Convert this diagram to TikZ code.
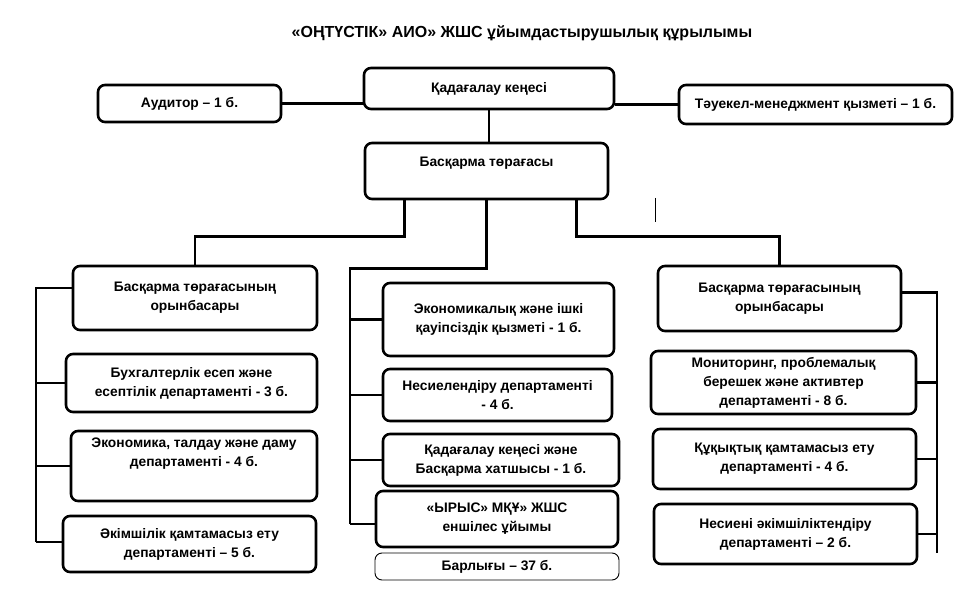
\documentclass[tikz,border=0pt]{standalone}
\usepackage{fontspec}
\setmainfont{Liberation Sans}
\tikzset{
  unit/.style     = {shape=rectangle, rounded corners=7pt,
                     draw, align=center, line width=2.6pt, inner sep=2pt,
                     font=\bfseries\fontsize{13.8}{19}\selectfont},
  total/.style    = {unit, line width=0.9pt},
  heading/.style  = {font=\bfseries\fontsize{16}{19}\selectfont},
  lifted/.style   = {text depth=#1}
}

\begin{document}
\begin{tikzpicture}
	  [
	    x                 = 1pt,
	    y                 = -1pt,
	    link/.style       = {draw, line width=2.6pt},
	  ]
	  \useasboundingbox (0,0) rectangle (972,609);
	  \node [heading] (title) at (522,33) {«ОҢТҮСТІК» АИО» ЖШС ұйымдастырушылық құрылымы};

	  % top level
	  \node [unit, minimum width=250, minimum height=41] (kad) at (489,88.5) {Қадағалау кеңесі};
	  \node [unit, minimum width=183, minimum height=37] (aud) at (189.5,103.5) {Аудитор – 1 б.};
	  \node [unit, minimum width=273, minimum height=39] (risk) at (815.5,104.5) {Тәуекел-менеджмент қызметі – 1 б.};
	  \node [unit, minimum width=243, minimum height=56, lifted=18pt] (chair) at (486.5,171) {Басқарма төрағасы};

	  % left column
	  \node [unit, minimum width=244, minimum height=64] (depL) at (195,298) {Басқарма төрағасының\\орынбасары};
	  \node [unit, minimum width=251, minimum height=58] (buh) at (191.5,383) {Бухгалтерлік есеп және\\есептілік департаменті - 3 б.};
	  \node [unit, minimum width=246, minimum height=70, lifted=28pt] (eco) at (194,466) {Экономика, талдау және даму\\департаменті - 4 б.};
	  \node [unit, minimum width=253, minimum height=56] (akim) at (189.5,544) {Әкімшілік қамтамасыз ету\\департаменті – 5 б.};

	  % middle column
	  \node [unit, minimum width=231, minimum height=73] (eis) at (498.5,319.5) {Экономикалық және ішкі\\қауіпсіздік қызметі - 1 б.};
	  \node [unit, minimum width=229, minimum height=52] (cred) at (497.5,395) {Несиелендіру департаменті\\- 4 б.};
	  \node [unit, minimum width=236, minimum height=52] (sec) at (501,460) {Қадағалау кеңесі және\\Басқарма хатшысы - 1 б.};
	  \node [unit, minimum width=242, minimum height=56] (irys) at (497,519) {«ЫРЫС» МҚҰ» ЖШС\\еншілес ұйымы};
	  \node [total, minimum width=244, minimum height=27] (sum) at (497,566.5) {Барлығы – 37 б.};

	  % right column
	  \node [unit, minimum width=243, minimum height=65] (depR) at (779.5,298.5) {Басқарма төрағасының\\орынбасары};
	  \node [unit, minimum width=265, minimum height=63] (mon) at (783.5,382.5) {Мониторинг, проблемалық\\берешек және активтер\\департаменті - 8 б.};
	  \node [unit, minimum width=263, minimum height=60] (kuk) at (784.5,459) {Құқықтық қамтамасыз ету\\департаменті - 4 б.};
	  \node [unit, minimum width=263, minimum height=60] (nes) at (785.5,534) {Несиені әкімшіліктендіру\\департаменті – 2 б.};

	  \coordinate (spineL) at (36,542);
	  \coordinate (spineM) at (350,524);
	  \coordinate (spineR) at (937,553);

	  % connectors
	  \draw [link] (aud.east) -- (aud.east -| kad.west);
	  \draw [link] (risk.west) -- (risk.west -| kad.east);
	  \draw [link] (kad.south) -- (kad.south |- chair.north);
	  \draw [link] ([xshift=-82pt]chair.south) -- ++(0,36) -| (depL.north);
	  \draw [link] ([xshift=90pt]chair.south) -- ++(0,36) -| (depR.north);
	  \draw [link] (chair.south) -- ++(0,68) -| (spineM);

	  \draw [link] ([yshift=10pt]depL.west) -| (spineL);
	  \draw [link] (buh.west -| spineL) -- (buh.west);
	  \draw [link] (eco.west -| spineL) -- (eco.west);
	  \draw [link] (spineL) -- (spineL -| akim.west);

	  \draw [link] (eis.west -| spineM) -- (eis.west);
	  \draw [link] (cred.west -| spineM) -- (cred.west);
	  \draw [link] (sec.west -| spineM) -- (sec.west);
	  \draw [link] (spineM) -- (spineM -| irys.west);

	  \draw [link] ([yshift=6pt]depR.east) -| (spineR);
	  \draw [link] (mon.east -| spineR) -- (mon.east);
	  \draw [link] (kuk.east -| spineR) -- (kuk.east);
	  \draw [link] (nes.east -| spineR) -- (nes.east);

	  \draw [line width=1pt] (655,198) -- (655,222);
\end{tikzpicture}
\end{document}
